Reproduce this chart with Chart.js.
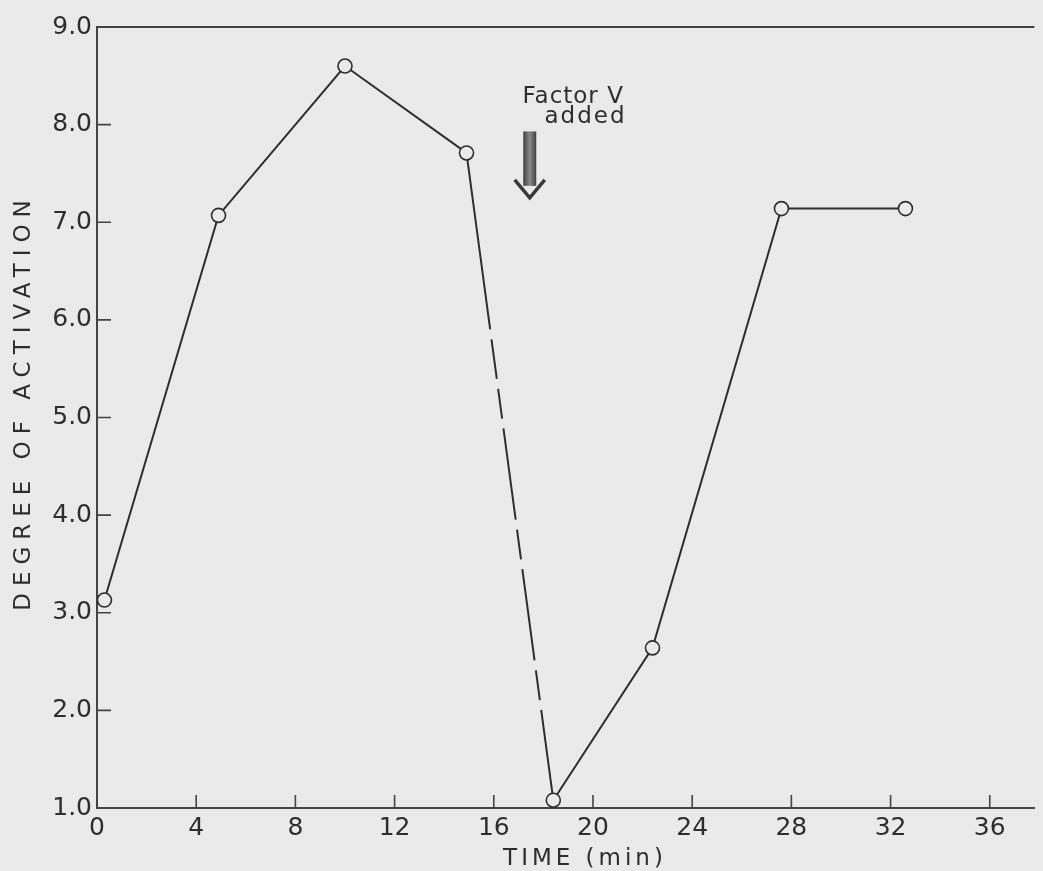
<!DOCTYPE html>
<html>
<head>
<meta charset="utf-8">
<script src="https://cdn.jsdelivr.net/npm/chart.js@4.4.1/dist/chart.umd.min.js"></script>
<style>
  html, body { margin: 0; padding: 0; background: #eaeaea; }
  #wrap { width: 1043px; height: 871px; }
</style>
</head>
<body>
<div id="wrap"><canvas id="activationChart" width="1043" height="871"></canvas></div>
<script>
// time course of activation, factor V added partway through
const timeMin = [0.3, 4.9, 10.0, 14.9, 18.4, 22.4, 27.6, 32.6];
const activation = [3.13, 7.07, 8.60, 7.71, 1.08, 2.64, 7.14, 7.14];
const xTicks = [0, 4, 8, 12, 16, 20, 24, 28, 32, 36];
const yTicks = [1, 2, 3, 4, 5, 6, 7, 8, 9];
const yTickLabels = ["1.0", "2.0", "3.0", "4.0", "5.0", "6.0", "7.0", "8.0", "9.0"];
const noteLines = ["Factor V", "added"];

const ink = "#2e2e2e";
const paper = "#eaeaea";
const font = "'DejaVu Sans', sans-serif";

// the drop after the peak is drawn broken
const breakDash = [178, 10, 40, 10, 30, 10, 92, 10, 30, 10, 92, 10, 30, 10, 400];

const framePlugin = {
  id: "frame",
  afterDraw(chart) {
    const ctx = chart.ctx;
    const a = chart.chartArea;
    const xs = chart.scales.x, ys = chart.scales.y;
    ctx.save();
    ctx.strokeStyle = "#444";
    ctx.lineWidth = 2;
    // top edge of the frame
    ctx.beginPath();
    ctx.moveTo(a.left, a.top);
    ctx.lineTo(a.right, a.top);
    ctx.stroke();
    // inward tick marks
    ctx.lineWidth = 1.6;
    ctx.beginPath();
    yTicks.slice(1, -1).forEach(v => {
      const y = ys.getPixelForValue(v);
      ctx.moveTo(a.left, y);
      ctx.lineTo(a.left + 14, y);
    });
    xTicks.slice(1).forEach(v => {
      const x = xs.getPixelForValue(v);
      ctx.moveTo(x, a.bottom);
      ctx.lineTo(x, a.bottom - 13);
    });
    ctx.stroke();

    // axis titles
    ctx.fillStyle = ink;
    ctx.textAlign = "center";
    ctx.textBaseline = "alphabetic";
    ctx.font = "23px " + font;
    ctx.letterSpacing = "4px";
    ctx.fillText("TIME (min)", 585, 865);
    ctx.save();
    ctx.translate(30, 402);
    ctx.rotate(-Math.PI / 2);
    ctx.letterSpacing = "7px";
    ctx.fillText("DEGREE OF ACTIVATION", 0, 0);
    ctx.restore();

    // note and arrow
    ctx.font = "23px " + font;
    ctx.letterSpacing = "1px";
    ctx.fillText(noteLines[0], xs.getPixelForValue(19.2), ys.getPixelForValue(8.22));
    ctx.letterSpacing = "2px";
    ctx.fillText(noteLines[1], xs.getPixelForValue(19.7), ys.getPixelForValue(8.02));
    ctx.letterSpacing = "0px";

    const ax = xs.getPixelForValue(17.45);
    const top = ys.getPixelForValue(7.93);
    const tip = ys.getPixelForValue(7.25);
    const g = ctx.createLinearGradient(ax - 7, 0, ax + 7, 0);
    g.addColorStop(0, "#3a3a3a");
    g.addColorStop(0.5, "#8a8a8a");
    g.addColorStop(1, "#3a3a3a");
    ctx.fillStyle = g;
    ctx.fillRect(ax - 6.5, top, 13, tip - top - 12);
    ctx.strokeStyle = "#3a3a3a";
    ctx.lineWidth = 3.5;
    ctx.lineJoin = "miter";
    ctx.beginPath();
    ctx.moveTo(ax - 15, tip - 18);
    ctx.lineTo(ax, tip);
    ctx.lineTo(ax + 15, tip - 18);
    ctx.stroke();
    ctx.restore();
  }
};

new Chart(document.getElementById("activationChart"), {
  type: "line",
  data: {
    datasets: [{
      data: timeMin.map((t, i) => ({ x: t, y: activation[i] })),
      borderColor: ink,
      borderWidth: 2,
      pointRadius: 7,
      pointBorderWidth: 1.6,
      pointBackgroundColor: paper,
      pointBorderColor: ink,
      tension: 0,
      segment: {
        borderDash: c => c.p0DataIndex === 3 ? breakDash : undefined
      }
    }]
  },
  options: {
    responsive: false,
    animation: false,
    events: [],
    layout: { padding: { top: 27, right: 0, bottom: 0, left: 0 } },
    plugins: { legend: { display: false }, tooltip: { enabled: false } },
    scales: {
      x: {
        type: "linear",
        min: 0,
        max: 37.8,
        afterFit: s => { s.height = 63; },
        afterBuildTicks: s => { s.ticks = xTicks.map(v => ({ value: v })); },
        grid: { display: false, drawTicks: false },
        border: { display: true, color: "#444", width: 2 },
        ticks: {
          padding: 5,
          color: ink,
          maxRotation: 0,
          autoSkip: false,
          font: { family: font, size: 25 },
          callback: v => String(v)
        }
      },
      y: {
        min: 1,
        max: 9,
        afterFit: s => { s.width = 97; },
        afterBuildTicks: s => { s.ticks = yTicks.map(v => ({ value: v })); },
        grid: { display: false, drawTicks: false },
        border: { display: true, color: "#444", width: 2 },
        ticks: {
          padding: 5,
          color: ink,
          autoSkip: false,
          font: { family: font, size: 25 },
          callback: v => yTickLabels[yTicks.indexOf(v)]
        }
      }
    }
  },
  plugins: [framePlugin]
});
</script>
</body>
</html>
